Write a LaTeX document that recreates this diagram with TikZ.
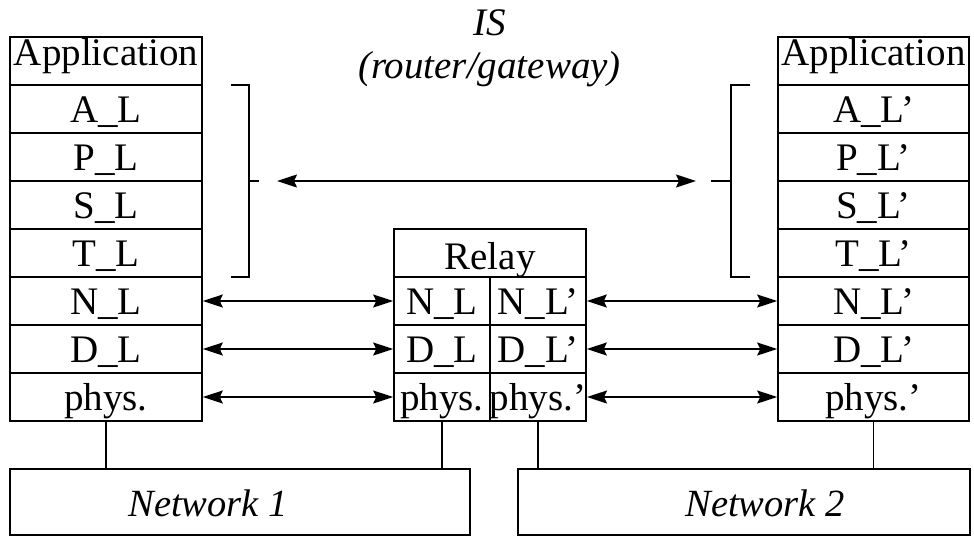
\documentclass[tikz,border=0pt]{standalone}
\usepackage{fontspec}
\setmainfont{Liberation Serif}
\usetikzlibrary{arrows.meta}
\begin{document}
\begin{tikzpicture}[x=1pt,y=-1pt,
  cell/.style={draw, line width=1.6pt, inner sep=0pt, minimum height=48pt,
    text height=27pt, text depth=0pt,
    font=\fontsize{39}{45}\selectfont},
  wide/.style={cell, minimum width=192pt},
  rwide/.style={cell, minimum width=191pt},
  half/.style={cell, minimum width=96pt},
  top/.style={text depth=19pt},
  netbox/.style={draw, line width=1.4pt, inner sep=0pt, minimum height=66pt},
  netlabel/.style={font=\fontsize{38.5}{44}\selectfont\itshape},
  title/.style={font=\fontsize{39}{45}\selectfont\itshape, inner sep=0pt, anchor=base},
  link/.style={line width=1.5pt, {Stealth[length=20pt,width=13pt,inset=3pt]}-{Stealth[length=20pt,width=13pt,inset=3pt]}},
  wire/.style={line width=1.1pt},
  brace/.style={line width=1.4pt}]
\useasboundingbox (0,0) rectangle (974,536);

% end-system stack, left
\node[wide, top] (lapp) at (106,61) {Application};
\node[wide] (lal)  at (106,109) {A\_L};
\node[wide] (lpl)  at (106,157) {P\_L};
\node[wide] (lsl)  at (106,205) {S\_L};
\node[wide] (ltl)  at (106,253) {T\_L};
\node[wide] (lnl)  at (106,301) {N\_L};
\node[wide] (ldl)  at (106,349) {D\_L};
\node[wide] (lph)  at (106,397) {phys.};

% end-system stack, right
\node[rwide, top] (rapp) at (873.5,61) {Application};
\node[rwide] (ral)  at (873.5,109) {A\_L'};
\node[rwide] (rpl)  at (873.5,157) {P\_L'};
\node[rwide] (rsl)  at (873.5,205) {S\_L'};
\node[rwide] (rtl)  at (873.5,253) {T\_L'};
\node[rwide] (rnl)  at (873.5,301) {N\_L'};
\node[rwide] (rdl)  at (873.5,349) {D\_L'};
\node[rwide] (rph)  at (873.5,397) {phys.'};

% relay in the middle
\node[wide, text height=32pt] (relay) at (490,253) {Relay};
\node[half] (mnl)  at (442,301) {N\_L};
\node[half] (mnr)  at (538,301) {N\_L'};
\node[half] (mdl)  at (442,349) {D\_L};
\node[half] (mdr)  at (538,349) {D\_L'};
\node[half] (mpl)  at (442,397) {phys.};
\node[half] (mpr)  at (538,397) {phys.'};

% title
\node[title] (is) at (489.5,35) {IS};
\node[title] (rg) at (489.5,78) {(router/gateway)};

% networks
\node[netbox, minimum width=460pt,
  label={[netlabel, xshift=-32pt, yshift=-1pt]center:Network 1}] (net1) at (240,502) {};
\node[netbox, minimum width=452pt,
  label={[netlabel, xshift=21pt, yshift=-1pt]center:Network 2}] (net2) at (744,502) {};

% peer links between layers
\draw[link] (lnl.east) -- (mnl.west);
\draw[link] (ldl.east) -- (mdl.west);
\draw[link] (lph.east) -- (mpl.west);
\draw[link] (mnr.east) -- (rnl.west);
\draw[link] (mdr.east) -- (rdl.west);
\draw[link] (mpr.east) -- (rph.west);

% brackets grouping the upper layers
\draw[brace] (231,85) -- (249,85) -- (249,277) -- (231,277);
\draw[brace] (249,181) -- (259,181);
\draw[brace] (750,85) -- (731,85) -- (731,277) -- (750,277);
\draw[brace] (731,181) -- (711,181);
\coordinate (ua) at (277,181);
\coordinate (ub) at (696,181);
\draw[link] (ua) -- (ub);

% attachments to the networks
\draw[wire] (lph.south) -- (lph.south |- net1.north);
\draw[wire] (mpl.south) -- (mpl.south |- net1.north);
\draw[wire] (mpr.south) -- (mpr.south |- net2.north);
\draw[wire] (rph.south) -- (rph.south |- net2.north);
\end{tikzpicture}
\end{document}
